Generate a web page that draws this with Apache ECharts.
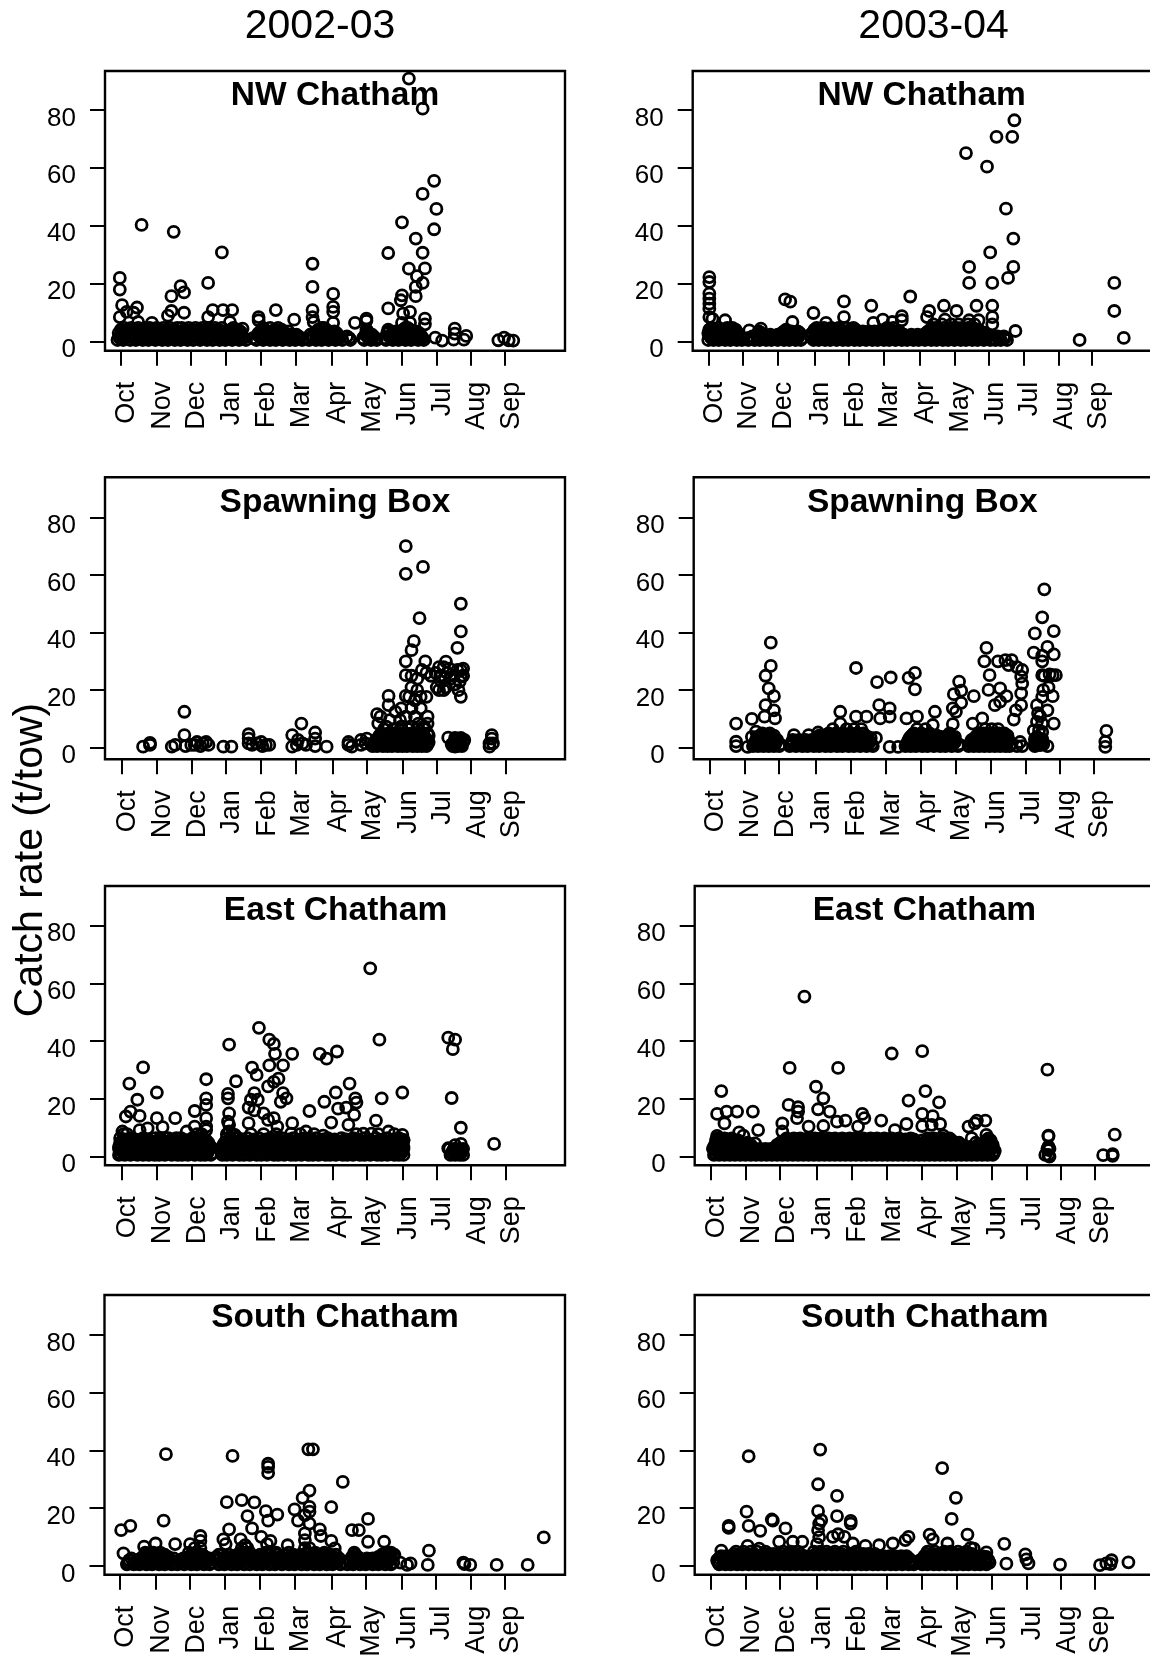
<!DOCTYPE html>
<html><head><meta charset="utf-8">
<style>html,body{margin:0;padding:0;background:#fff;width:1150px;height:1660px;overflow:hidden}#c{width:1300px;height:1660px}</style>
<script src="https://cdn.jsdelivr.net/npm/echarts@6/dist/echarts.min.js"></script>
</head><body><div id="c"></div>
<script>
const monthLabels=['Oct','Nov','Dec','Jan','Feb','Mar','Apr','May','Jun','Jul','Aug','Sep'];
const yTicks=[0,20,40,60,80];
const leftMonthTicks=[0,31,61,91,122,152,184,214,245,275,305,335];
const rightMonthTicks=[0,33,66,101,134,167,201,234,267,300,333,365];

// Individually readable points: [season position, catch rate]
const nw0203Points=[[251,90.8],[263,80.4],[273,55.5],[263,51],[275,45.8],[245,41.2],[18,40.3],[273,38.8],[46,37.9],[257,35.6],[88,30.8],[233,30.6],[263,30.7],[167,26.9],[251,25.2],[265,25.3],[258,22.6],[-1,22],[76,20.3],[263,20.3],[167,18.9],[257,18.9],[52,19.2],[-1,18],[55,17],[185,16.5],[44,15.7],[245,16],[257,15.7],[244,14.3],[1,12.6],[14,11.8],[233,11.5],[185,12],[185,10.3],[80,10.9],[89,10.9],[97,10.9],[135,10.9],[167,10.9],[44,10.6],[55,10],[252,10.3],[246,9.7],[5,10.3],[11,10],[-1,8.5],[120,8.5],[167,8.5],[76,8.5],[41,9],[265,8],[151,7.6],[214,8],[214,7.2],[265,6],[204,6.5],[185,6.5],[27,6.5],[15,6.8],[120,7.4],[95,6.8],[168,6.8],[106,4.5],[245,6.5],[252,6.5],[291,4.5],[291,2.8],[301,2],[290,0.7],[299,0.7],[274,1.4],[280,0.4],[329,0.5],[334,1.4],[338,0.5],[342,0.4]];
// Dense low catches: [catch rate, positions...]
const nw0203Dense=[[0.6,-3,2,8,13,19,24,30,36,41,47,52,58,63,69,75,80,86,91,97,103,109,118,124,130,135,141,147,152,158,164,170,175,181,187,193,200,212,218,223,231,237,242,248,253,259,264],[1.2,-1,4,11,17,23,28,34,39,45,51,56,60,67,73,77,84,90,95,101,107,115,122,128,133,139,145,150,156,162,168,174,180,186,191,199,211,216,222,230,236,241,246,252,258,263],[1.8,-1,5,10,16,22,27,33,38,44,50,55,61,66,72,78,83,89,94,100,106,121,127,133,138,144,150,155,167,173,178,184,190,197,215,220,234,240,245,251,256,262],[2.4,1,7,12,15,21,26,32,35,42,49,53,57,64,71,74,81,88,92,98,104,119,123,129,136,142,148,153,165,171,177,183,189,213,219,235,239,244,250,254,261],[3,-2,3,9,14,20,25,31,37,43,48,54,59,65,70,76,82,87,93,99,105,120,126,132,137,143,170,176,182,188,216,232,238,243,249,255,260],[3.6,1,6,11,16,22,27,33,38,44,50,55,60,66,72,77,83,89,94,100,104,122,128,135,139,146,173,180,186,215,234,240,245,251,257],[4.2,0,6,12,18,28,34,40,46,56,62,68,74,79,85,96,102,125,134,140,172,179,214,233,246,252],[4.8,3,9,15,21,25,31,37,43,49,53,59,65,71,76,82,88,98,124,130,137,175,177,248,250]];

const nw0304Points=[[291,76.4],[274,70.7],[289,70.7],[245,65.1],[265,60.4],[283,45.9],[290,35.6],[268,30.8],[248,25.8],[290,25.8],[285,22],[248,20.3],[270,20.3],[386,20.3],[1,22.3],[1,20.6],[1,16.6],[1,14.9],[1,13.1],[1,11.4],[73,14.6],[78,13.8],[129,13.9],[192,15.6],[155,12.4],[224,12.4],[255,12.4],[270,12.4],[100,9.9],[210,10.6],[236,10.6],[386,10.6],[129,8.5],[184,8.8],[270,8.5],[208,8.5],[1,8.5],[4,7.9],[16,7.4],[166,7.6],[225,7.6],[248,7.4],[257,7.4],[80,6.8],[112,6.5],[157,6.5],[175,6.8],[184,7.4],[270,6],[292,3.7],[39,3.9],[50,4.5],[353,0.6],[395,1.3]];
const nw0304Dense=[[0.6,0,5,10,16,21,27,32,38,44,49,55,60,66,72,77,83,88,100,105,111,116,122,128,133,139,144,150,156,161,167,172,178,184,189,195,200,206,212,217,223,228,234,240,245,251,256,262,268,273,278,284],[1.2,3,9,14,18,25,31,37,43,48,54,59,65,71,78,84,89,101,107,112,118,123,129,134,140,146,151,157,163,168,174,179,185,191,196,202,208,213,219,225,230,236,242,247,253,258,264,270,276,282],[1.8,2,8,13,19,24,30,42,47,52,58,63,70,75,81,86,98,103,109,114,120,125,131,137,142,148,153,159,165,170,176,181,187,192,198,204,209,215,220,226,232,237,243,248,254,259,266,275,281],[2.4,1,6,12,17,23,29,46,53,59,66,72,79,85,97,102,108,113,119,124,130,136,141,147,152,158,164,169,175,180,186,193,199,205,210,216,221,227,233,238,244,249,255,260,265],[3,0,6,11,17,22,28,50,70,76,82,87,99,104,110,115,121,127,132,138,143,149,155,160,166,171,177,183,207,213,218,224,229,235,241,246,252,257,263],[3.6,2,9,13,19,24,48,72,79,85,101,106,112,117,123,130,136,141,147,153,158,164,169,175,181,209,216,221,227,232,237,243,248,254,259],[4.2,1,7,15,20,26,74,101,108,119,126,135,140,168,174,211,219,227,233,239,244,250,255],[4.8,3,10,18,23,103,110,117,124,131,138,170,176,213,217,224,230,236,241,247,252],[6,214,222,231,238,247,253]];

const spawn0203Points=[[248,70],[248,60.4],[263,62.8],[296,50],[260,45],[296,40.4],[255,37],[253,33.9],[293,34.7],[248,30],[265,30],[283,29.9],[248,25.2],[253,25],[277,28],[281,28],[286,27.5],[296,27],[296,24.7],[294,20],[296,17.7],[277,20],[281,20],[274,26],[278,25],[279,23],[282,24.5],[284,26],[287,24],[290,25],[291,22],[293,27],[295,23],[298,25],[298,27.5],[270,25],[266,26],[262,27],[258,24],[275,21],[283,21],[233,18],[248,18],[233,14.8],[223,11.7],[226,10.8],[267,10.8],[267,8.4],[253,21],[258,20],[261,17.7],[266,17.7],[251,17.7],[256,16.5],[244,13.7],[253,13.7],[261,13.7],[239,12.5],[248,10.8],[256,10.8],[243,9.6],[234,9.6],[259,8.4],[224,8.4],[231,7.3],[244,7.3],[253,7.3],[264,7.3],[55,12.5],[55,4.4],[157,8.4],[149,4.4],[169,5.3],[111,4.7],[169,3.2],[19,0.4],[25,1],[25,1.7],[44,0.4],[47,1],[56,0.6],[61,1],[66,2],[71,1.5],[76,1],[74,2],[64,1],[69,0.6],[89,0.4],[96,0.4],[111,1.5],[111,3.2],[114,1],[118,1.5],[122,2],[126,1],[123,0.6],[129,1],[149,0.4],[153,1],[158,1.5],[154,2.7],[161,1],[169,0.6],[179,0.4],[198,1],[198,2],[201,0.4],[209,1],[213,1.5],[214,3.2],[209,2.7],[285,3.5],[291,0.4],[323,4.4],[323,3.2],[321,1.5],[321,0.4],[324,1.5]];
const spawn0203Dense=[[0.6,219,223,228,232,236,241,245,249,254,258,262,266,289,293,297],[1.2,220,225,229,233,238,242,246,251,255,259,263,267,288,292,296],[2,221,226,230,234,239,243,247,252,256,260,264,268,290,294,298],[2.7,222,227,231,237,241,244,248,251,254,258,261,266,292,295,299],[3.4,224,229,235,240,246,250,255,259,265,291,296],[4.2,225,231,236,239,243,247,251,254,256,260,262,268],[5,227,233,238,242,248,253,257,263,267],[6.5,229,237,244,250,258,264]];

const spawn0304Points=[[318,55],[316,45.3],[309,39.7],[327,40.5],[58,36.5],[263,34.7],[321,35],[308,33],[316,32],[327,32.4],[261,30],[274,30],[281,30.4],[287,30.4],[316,30],[58,28.4],[139,27.7],[284,28.7],[292,28],[297,27],[195,26],[266,25.2],[53,25],[189,24.3],[172,24.4],[316,25.2],[326,25.2],[329,25.2],[296,24.7],[159,22.8],[237,23],[297,22.3],[56,20.6],[195,20.3],[265,20.1],[239,19.8],[276,20.6],[232,18.6],[251,17.9],[61,17.9],[296,18.9],[282,17.9],[326,17.9],[317,20],[322,21],[311,14.8],[316,17.7],[53,14.8],[239,15.6],[276,16],[161,14.8],[171,13.7],[231,13.7],[296,14.8],[321,13],[124,12.5],[61,13],[234,12.5],[214,12.5],[271,14.8],[291,13],[52,10.8],[62,10.2],[40,10],[162,10.2],[289,9.8],[187,10.2],[197,10.8],[139,10.8],[149,10.8],[171,10.8],[259,10.2],[25,8.4],[327,8.4],[124,8.4],[212,7.9],[231,8.2],[250,8.4],[311,9],[312,12],[44,5.6],[80,4.4],[103,5.3],[94,4.4],[40,3.8],[25,2.1],[25,0.6],[36,0.3],[295,2],[292,0.6],[297,0.6],[321,0.6],[309,0.6],[314,0.9],[377,5.9],[376,2.1],[376,0.3],[171,0.3],[179,0.3],[316,3],[316,5.5],[311,3.8],[316,8.4],[308,6],[313,6],[309,3],[314,11],[318,25],[323,25.5]];
const spawn0304Dense=[[0.6,41,46,51,56,61,66,76,82,88,93,99,104,110,115,121,126,132,137,143,149,155,186,191,196,202,207,213,219,224,230,236,246,251,256,261,266,271,276,281,285],[1.2,42,47,52,57,62,67,77,83,89,94,100,105,111,116,122,127,133,138,144,150,154,187,192,197,203,208,214,220,225,231,237,247,252,257,262,267,272,277,282,286,309,311,313,315,317],[2,43,48,53,58,63,78,84,90,96,101,107,112,118,123,129,135,141,146,152,188,193,199,204,210,216,222,227,233,248,253,258,263,268,273,278,283],[2.7,44,49,55,59,64,79,85,91,97,102,106,109,115,121,124,131,134,139,145,151,189,194,198,205,211,217,223,226,232,249,254,259,264,269,274,279,284,310,312,314,316],[3.4,47,54,60,102,108,114,119,125,130,136,142,147,153,158,190,195,200,206,212,218,225,231,252,257,262,267,272,277,282],[3.8,45,51,58,105,110,116,121,127,132,138,144,150,191,197,202,208,214,220,227,233,253,259,264,270,275,280],[4.2,48,52,56,61,104,111,118,122,128,133,139,148,192,199,203,210,216,226,229,254,258,263,269,274,279,283],[4.6,49,55,112,117,123,129,135,141,193,200,207,255,261,267,272,277],[5,50,57,113,120,127,134,140,146,194,201,209,228,256,260,265,270,275,280],[6.5,117,130,137,144,197,205,262,268,274]];

const east0203Points=[[217,65.2],[120,44.6],[225,40.5],[129,40.5],[285,41.2],[291,40.5],[289,37.2],[133,39],[94,38.8],[134,35.6],[149,35.6],[173,35.6],[179,33.9],[188,36.4],[19,30.9],[114,30.8],[129,31.6],[141,31.6],[118,28.3],[137,27],[74,26.8],[100,26.1],[7,25.3],[199,25.3],[133,25.9],[128,24.3],[93,21.7],[31,22.2],[187,22.2],[245,22.2],[93,20.2],[14,19.7],[74,20.2],[74,17.9],[141,22],[144,20.2],[139,19],[204,20.2],[227,20.2],[288,20.3],[177,19],[205,18.7],[116,22],[113,19.7],[119,19.7],[111,17],[189,16.6],[196,17],[64,15.8],[164,15.8],[8,15.6],[94,15],[116,16],[124,15],[4,13.9],[16,14.1],[31,13.3],[47,13.3],[74,13.3],[133,13.3],[203,14.5],[128,12.7],[93,12.1],[222,12.5],[183,11.8],[111,11.6],[149,11.6],[94,11],[74,10.4],[64,10.4],[36,10.2],[296,10],[198,11],[136,10.4],[23,9.8],[1,8.7],[16,9.2],[57,8.7],[74,9.2],[94,8.7],[233,8.7],[161,8.7],[148,8],[99,7.5],[245,7.5],[176,7.3],[211,8],[218,8],[48,6.4],[34,6.4],[246,5.8],[296,4.4],[325,4.4],[285,2.9],[291,4]];
const east0203Dense=[[0.6,-2,3,8,14,19,24,29,33,38,44,49,53,58,64,69,73,78,88,92,97,103,107,112,118,122,127,133,137,142,148,152,157,163,167,172,178,182,187,193,197,202,208,212,217,223,227,232,238,242,246,287,291,295,298],[1.2,-1,4,9,15,20,25,30,35,40,45,50,55,60,65,70,75,79,89,94,99,104,109,114,119,124,129,134,139,144,149,154,159,164,169,174,179,184,189,194,199,204,209,214,219,224,229,234,239,244,288,292,296],[2,0,5,10,16,21,26,31,36,41,46,51,56,61,66,71,76,90,95,100,105,110,115,120,125,130,135,140,145,150,155,160,165,170,175,180,185,190,195,200,205,210,215,220,225,230,235,240,245,289,293,297],[2.7,-2,2,7,12,17,22,27,32,37,42,47,52,57,62,67,72,77,87,91,96,101,106,111,116,121,126,131,136,141,146,151,156,161,166,171,176,181,186,191,196,201,206,211,216,221,226,231,236,241,246,286,290,294,298],[3.4,-2,3,8,13,18,24,29,34,39,44,49,54,59,64,69,74,78,88,93,98,103,108,113,118,123,128,133,138,143,148,153,158,163,168,173,178,183,188,193,198,203,208,213,218,223,228,233,238,243,246],[4.1,0,6,12,16,21,26,31,36,42,46,51,56,61,66,71,75,89,95,100,105,110,115,120,125,130,135,140,145,150,155,160,165,170,175,180,185,190,195,200,205,210,215,220,225,230,235,240,244],[4.8,-1,5,11,17,22,27,32,37,43,47,52,57,63,67,72,76,90,96,101,106,111,116,121,126,131,136,141,146,151,156,161,166,171,176,181,186,191,196,201,206,211,216,221,226,231,236,241,245],[5.2,2,8,14,20,25,30,35,40,45,50,55,60,65,69,74,92,98,103,108,113,118,123,128,133,138,143,148,153,158,163,168,173,178,183,188,193,198,203,208,213,218,223,228,233,238,243],[5.6,1,7,14,24,35,46,57,65,74,94,104,114,124,134,144,154,164,174,184,194,204,214,226,236,246],[6,3,12,22,33,44,54,64,71,96,106,116,126,136,146,156,166,176,186,196,206,216,228,238,244],[6.4,-1,9,19,30,41,52,62,70,92,102,110,120,130,140,150,160,170,180,192,202,212,222,232,242],[7.8,2,5,66,70,92,97,113,124,135,156,168,205,224,238]];

const east0304Points=[[89,55.4],[201,36.5],[172,35.7],[75,30.7],[121,30.7],[320,30.1],[100,24.2],[10,22.7],[204,22.7],[107,20.2],[188,19.4],[217,18.8],[74,17.9],[83,17.1],[102,16.4],[25,15.6],[40,15.6],[15,15.6],[6,14.8],[113,15.6],[144,14.8],[201,14.8],[83,15.6],[146,13.3],[211,14],[128,12.5],[162,12.5],[253,12.5],[261,12.5],[251,11.5],[68,11.5],[13,11.5],[186,11.3],[218,11.3],[210,11],[201,10.6],[245,10.4],[120,12.1],[93,10.4],[107,10.6],[82,13.3],[175,9.2],[45,9.2],[27,8.4],[68,8.7],[140,10.4],[262,7.5],[31,7.3],[6,7.2],[248,6.4],[384,7.6],[221,7.3],[321,7.3],[321,7],[321,3.5],[321,2.3],[321,0.6],[322,0],[318,0.6],[373,0.5],[382,0.9],[382,0.3],[42,4.6]];
const east0304Dense=[[0.6,3,8,13,18,23,28,33,38,43,48,53,58,63,68,73,78,83,88,93,98,103,108,113,118,123,128,133,138,143,148,153,158,163,168,173,178,183,188,193,198,203,208,213,218,223,228,233,238,243,248,253,258,263,268],[1.2,4,9,14,19,24,29,34,39,44,49,54,59,64,69,74,79,84,89,94,99,104,109,114,119,124,129,134,139,144,149,154,159,164,169,174,179,184,189,194,199,204,209,214,219,224,229,234,239,244,249,254,259,264,269],[2,5,10,15,20,25,30,35,40,45,50,55,60,65,70,75,80,85,90,95,100,105,110,115,120,125,130,135,140,145,150,155,160,165,170,175,180,185,190,195,200,205,210,215,220,225,230,235,240,245,250,255,260,265,270],[2.7,2,7,12,17,22,27,32,37,42,47,52,57,61,67,72,77,82,87,92,97,102,107,112,117,122,127,132,137,142,147,152,157,162,167,172,177,182,187,192,197,202,207,212,217,222,227,232,237,242,247,252,257,262,267,320,322],[3.4,3,8,14,19,24,29,34,39,62,68,73,78,84,89,94,99,104,109,114,119,124,129,134,139,144,149,154,159,164,169,174,179,184,189,194,199,204,209,214,219,224,229,234,239,246,256,263,268],[4.1,4,10,16,21,27,33,38,63,69,74,80,85,90,95,100,105,110,115,120,125,130,135,140,145,150,155,160,165,170,175,180,185,190,195,200,205,210,215,220,225,231,238,254,264,268],[4.8,5,11,17,22,28,35,66,71,76,81,86,91,96,101,106,111,116,121,126,131,136,141,146,151,156,161,166,171,176,181,186,191,196,203,208,213,218,223,228,236,252,265],[5.2,6,14,21,27,68,73,78,83,89,93,98,103,108,113,118,123,128,133,138,143,148,153,158,163,168,173,178,183,193,205,210,215,220,225,230,263],[5.6,5,12,19,26,70,76,83,88,94,101,108,114,121,127,134,140,147,153,160,167,174,182,188,194,201,208,215,222,229,262,266],[6,8,16,74,81,87,96,102,109,115,122,129,135,142,149,155,162,169,176,185,193,208,214,222],[6.3,6,13,20,72,79,85,92,99,105,112,118,125,132,138,145,152,158,165,172,179,190,206,212,220,227,264]];

const south0203Points=[[164,40.4],[168,40.4],[40,38.7],[98,38.1],[129,35.4],[129,34.3],[129,32.2],[194,29.1],[165,26.1],[159,23.6],[106,22.8],[93,22.1],[117,22],[165,20.5],[184,20.4],[152,19.6],[127,19],[165,18.8],[161,17.6],[137,17.8],[111,17.3],[216,16.3],[38,15.7],[129,15.7],[155,15.7],[165,14.7],[9,13.9],[1,12.4],[95,12.7],[115,13],[174,12.7],[202,12.4],[208,12.4],[161,11.3],[70,10.4],[123,10.1],[175,10.4],[369,9.9],[90,9.2],[105,9.2],[70,8.7],[131,8.7],[184,8.7],[230,8.4],[216,8.4],[161,9],[31,7.8],[48,7.6],[61,7.6],[92,7.6],[128,7.6],[146,7.2],[109,7.2],[21,6.7],[3,4.4],[187,6.1],[269,5.3],[244,1.2],[253,0.9],[250,0.4],[268,0.4],[299,1.2],[300,0.7],[305,0.4],[328,0.4],[355,0.4]];
const south0203Dense=[[0.6,6,12,17,23,28,34,39,45,50,56,62,67,73,78,86,91,97,102,108,113,119,124,130,135,141,147,152,158,163,169,174,180,185,192,198,203,209,214,220,225,231,236],[1.2,7,13,19,24,30,35,41,46,52,58,63,69,75,80,88,93,99,104,110,116,121,126,132,137,143,149,154,160,165,171,176,182,187,194,200,205,211,216,222,227,233,238],[2,8,15,21,26,32,38,44,52,59,65,71,76,84,89,95,100,106,112,117,123,128,134,139,145,150,156,161,167,172,178,183,189,200,206,212,218,223,228,234],[2.6,10,18,24,29,34,40,47,55,61,67,72,78,86,90,94,101,107,114,120,125,131,137,143,149,153,158,164,169,174,180,185,191,204,209,215,220,226,230,236],[3.2,20,25,31,36,42,60,64,69,74,84,92,98,104,110,118,126,133,140,148,154,160,166,171,176,181,186,202,207,225,232,238],[3.9,23,27,33,39,62,68,72,86,95,102,107,112,122,130,137,144,151,157,163,168,173,177,183,188,205,228,234,239],[4.6,22,29,35,60,66,105,109,113,127,136,147,163,170,178,204,232,236],[6.2,70,65,106,111,161,165]];

const south0304Points=[[104,40.3],[36,38],[220,33.9],[102,28.3],[120,24.3],[233,23.6],[102,19],[34,18.8],[120,17.3],[58,16.1],[229,16.3],[105,15.9],[133,15.6],[133,14.7],[103,14.7],[59,15.7],[17,13.9],[17,13.2],[36,13.9],[71,13],[47,12.2],[102,12.4],[244,10.9],[208,10.9],[188,10.1],[121,11],[116,10.1],[127,10.1],[211,9.2],[185,9],[103,10],[279,7.7],[65,8.4],[78,8.4],[87,8.4],[173,7.8],[225,7.8],[160,7.2],[147,7],[135,7.8],[101,7.6],[35,7],[247,6.3],[250,6],[10,5.3],[46,6],[262,4.7],[262,3.2],[299,4],[300,2.3],[302,0.9],[281,0.8],[332,0.5],[370,0.3],[376,0.9],[381,2],[380,0.7],[397,1.3]];
const south0304Dense=[[0.6,8,14,19,25,30,36,42,47,53,58,64,70,75,81,87,92,98,103,109,115,120,126,131,137,143,148,154,159,165,171,176,182,188,193,201,206,212,217,223,229,234,240,245,251,256,262],[1.2,7,13,18,24,29,35,40,46,51,57,63,68,74,79,85,91,99,104,110,116,121,127,132,138,144,149,155,160,166,172,177,183,189,192,200,205,211,216,222,228,233,239,244,250,255,261,265],[2,6,12,17,23,28,34,39,45,50,56,62,67,73,78,84,90,100,106,112,117,123,128,134,140,145,151,156,162,168,173,179,185,190,199,204,210,215,221,226,232,237,243,249,254,260,264],[2.7,8,13,19,24,30,35,41,46,52,57,65,70,75,80,86,91,98,103,109,114,120,126,131,137,143,148,154,160,165,171,177,182,188,202,207,213,218,224,229,235,240,246,251,257,262],[3.4,10,15,21,26,32,37,43,48,54,61,66,72,77,83,89,96,102,108,113,119,125,130,136,142,147,153,158,164,170,175,181,186,203,208,214,219,225,230,236,241,247,252,258],[4.2,22,28,34,41,50,55,60,68,74,80,85,100,106,112,118,124,132,140,145,150,156,205,211,217,224,232,238,245,248],[5,24,31,38,44,52,69,76,82,98,104,110,118,126,138,206,213,222,228,235,243]];

function expand(points,rows){
  const out=points.slice();
  rows.forEach(r=>{for(let i=1;i<r.length;i++)out.push([r[i],r[0]]);});
  return out;
}
const ink='#000';
const panels=[
 {name:'NW Chatham',data:expand(nw0203Points,nw0203Dense),ticks:leftMonthTicks,left:105,top:71,h:279.7,w:460,xMin:-13.9,xSpan:401,yMin:-3.1,yMax:93.4,tx:335,ty:94},
 {name:'Spawning Box',data:expand(spawn0203Points,spawn0203Dense),ticks:leftMonthTicks,left:105,top:477.3,h:282,w:460,xMin:-14.2,xSpan:401,yMin:-4,yMax:93.9,tx:335,ty:501},
 {name:'East Chatham',data:expand(east0203Points,east0203Dense),ticks:leftMonthTicks,left:105,top:886,h:279.3,w:460,xMin:-14.2,xSpan:401,yMin:-3,yMax:93.7,tx:335.5,ty:909},
 {name:'South Chatham',data:expand(south0203Points,south0203Dense),ticks:leftMonthTicks,left:104.5,top:1295,h:279.7,w:460.5,xMin:-13.5,xSpan:401,yMin:-3,yMax:93.8,tx:335,ty:1316},
 {name:'NW Chatham',data:expand(nw0304Points,nw0304Dense),ticks:rightMonthTicks,left:692.7,top:71,h:279.7,w:547,xMin:-14.8,xSpan:520,yMin:-3.1,yMax:93.4,tx:921.6,ty:94},
 {name:'Spawning Box',data:expand(spawn0304Points,spawn0304Dense),ticks:rightMonthTicks,left:693.7,top:477.3,h:282,w:547,xMin:-15.3,xSpan:520,yMin:-4,yMax:93.9,tx:922.3,ty:501},
 {name:'East Chatham',data:expand(east0304Points,east0304Dense),ticks:rightMonthTicks,left:694.7,top:886,h:279.3,w:547,xMin:-15.3,xSpan:520,yMin:-3,yMax:93.7,tx:924.4,ty:909},
 {name:'South Chatham',data:expand(south0304Points,south0304Dense),ticks:rightMonthTicks,left:694.7,top:1295,h:279.7,w:547,xMin:-15.3,xSpan:520,yMin:-3,yMax:93.8,tx:924.8,ty:1316}
];
const fam='"Liberation Sans",Arial,sans-serif';
const option={
 animation:false,backgroundColor:'#fff',
 title:panels.map(p=>({text:p.name,left:p.tx,top:p.ty-15,textAlign:'center',padding:0,
   textStyle:{fontFamily:fam,fontWeight:'bold',fontSize:33.5,color:ink}})).concat([
   {text:'2002-03',left:320,top:6,textAlign:'center',padding:0,textStyle:{fontFamily:fam,fontWeight:'normal',fontSize:41,color:ink}},
   {text:'2003-04',left:933.6,top:6,textAlign:'center',padding:0,textStyle:{fontFamily:fam,fontWeight:'normal',fontSize:41,color:ink}}]),
 graphic:[{type:'text',x:31,y:860,rotation:Math.PI/2,style:{text:'Catch rate (t/tow)',font:'41px '+fam,fill:ink,align:'center',verticalAlign:'middle'}}],
 grid:panels.map(p=>({left:p.left,top:p.top,width:p.w,height:p.h,show:true,borderColor:ink,borderWidth:2.4,backgroundColor:'transparent',containLabel:false})),
 xAxis:panels.map((p,i)=>({type:'value',gridIndex:i,min:p.xMin,max:p.xMin+p.xSpan,
   axisLine:{show:false,onZero:false},splitLine:{show:false},
   axisTick:{show:true,length:15,customValues:p.ticks,lineStyle:{color:ink,width:2}},
   axisLabel:{show:true,customValues:p.ticks,rotate:90,margin:31,fontFamily:fam,fontSize:27,color:ink,verticalAlign:'top',lineHeight:12,
     formatter:v=>monthLabels[p.ticks.indexOf(v)]||''}})),
 yAxis:panels.map((p,i)=>({type:'value',gridIndex:i,min:p.yMin,max:p.yMax,
   axisLine:{show:false,onZero:false},splitLine:{show:false},
   axisTick:{show:true,length:15,customValues:yTicks,lineStyle:{color:ink,width:2}},
   axisLabel:{show:true,customValues:yTicks,margin:29,fontFamily:fam,fontSize:26,color:ink,verticalAlign:'top',lineHeight:17}})),
 series:panels.map((p,i)=>({type:'scatter',xAxisIndex:i,yAxisIndex:i,data:p.data,symbol:'circle',symbolSize:11,clip:false,silent:true,large:false,
   itemStyle:{color:'transparent',borderColor:ink,borderWidth:2.8,opacity:1},emphasis:{disabled:true}}))
};
echarts.init(document.getElementById('c'),null,{renderer:'canvas'}).setOption(option);
</script></body></html>
